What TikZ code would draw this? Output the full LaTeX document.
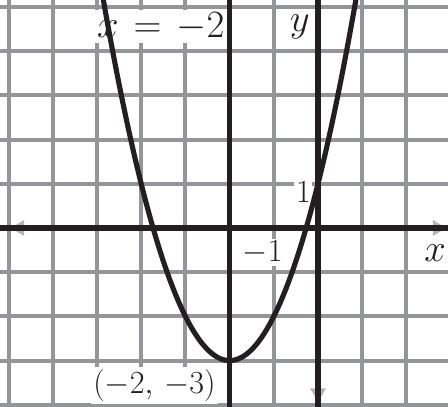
\documentclass[tikz,border=0pt]{standalone}
\usetikzlibrary{arrows.meta}
\definecolor{gridgray}{RGB}{147,149,153}
\definecolor{ink}{RGB}{35,31,32}
\tikzset{
  gridline/.style={gridgray, line width=2.6pt},
  axisline/.style={ink, line width=3.4pt},
  curve/.style={ink, line width=3.3pt, line join=round},
  lbl/.style={fill=white, inner sep=1.5pt, text=ink, font=\fontsize{24}{26}\selectfont},
  smalllbl/.style={fill=white, inner sep=1pt, text=ink, font=\fontsize{20}{22}\selectfont},
  tipmark/.style={fill=gridgray!70}
}
\begin{document}
\begin{tikzpicture}
\useasboundingbox (-7.195,-4.05) rectangle (2.941,5.158);
\begin{scope}
\clip (-7.195,-4.05) rectangle (2.941,5.158);
% grid
\foreach \x in {-7,...,2} \draw[gridline] (\x,-4.3) -- (\x,5.4);
\foreach \y in {-4,...,5} \draw[gridline] (-7.4,\y) -- (3.2,\y);
% labels with white backgrounds
\node[lbl, anchor=east, font=\fontsize{25}{27}\selectfont] (xeq) at (-2.06,4.55) {$x \mskip2mu=\mskip2mu -2$};
\node[lbl] (ylbl) at (-0.41,4.55) {$y$};
\node[smalllbl] (one) at (-0.33,0.82) {$1$};
\node[smalllbl] (mone) at (-1.25,-0.55) {$-1$};
\node[lbl] (xlbl) at (2.65,-0.58) {$x$};
\node[lbl, font=\fontsize{21}{23}\selectfont] (vtx) at (-3.7,-3.57) {$(-2,\,-3)$};
% small arrow-tip marks
\fill[tipmark] (-6.95,0) -- (-6.65,0.18) -- (-6.65,-0.18) -- cycle;
\fill[tipmark] (2.9,0) -- (2.6,0.18) -- (2.6,-0.18) -- cycle;
\fill[tipmark] (0,-3.93) -- (0.18,-3.63) -- (-0.18,-3.63) -- cycle;
% axes
\coordinate (xl) at (-7.3,0);
\coordinate (xr) at (3.0,0);
\coordinate (yb) at (0,-4.2);
\coordinate (yt) at (0,5.3);
\coordinate (sb) at (-2,-4.2);
\coordinate (st) at (-2,5.3);
\draw[axisline] (xl) -- (xr);
\draw[axisline] (yb) -- (yt);
\draw[axisline, line width=3.2pt] (sb) -- (st);
% parabola
\draw[curve] plot[domain=-4.95:0.95, samples=120] (\x,{(\x+2)^2-3});
\end{scope}
\end{tikzpicture}
\end{document}
